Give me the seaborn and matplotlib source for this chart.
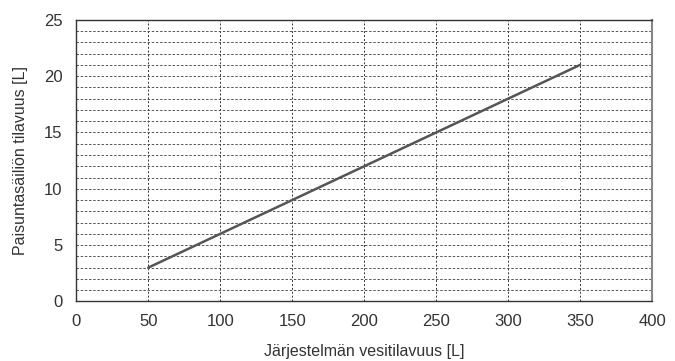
import pandas as pd
import seaborn as sns
import matplotlib.pyplot as plt
from matplotlib.ticker import MultipleLocator

# System water volume vs expansion tank volume
system_volume = [50, 100, 150, 200, 250, 300, 350]
tank_volume = [3, 6, 9, 12, 15, 18, 21]

df = pd.DataFrame({'system': system_volume, 'tank': tank_volume})

sns.set_style('white')
plt.rcParams['font.family'] = ['Liberation Sans', 'DejaVu Sans']

fig, ax = plt.subplots(figsize=(6.75, 3.61), dpi=100)
sns.lineplot(data=df, x='system', y='tank', color='#555555', linewidth=1.8, ax=ax)

ax.set_xlim(0, 400)
ax.set_ylim(0, 25)
ax.xaxis.set_major_locator(MultipleLocator(50))
ax.yaxis.set_major_locator(MultipleLocator(5))
ax.yaxis.set_minor_locator(MultipleLocator(1))

# Dashed grid: vertical every 50, horizontal every 1
ax.grid(which='major', axis='x', linestyle=(0, (2, 2)), color='#333333', linewidth=0.7)
ax.grid(which='both', axis='y', linestyle=(0, (2.5, 1.8)), color='#555555', linewidth=0.7)
ax.set_axisbelow(True)

ax.tick_params(axis='both', which='both', length=0, labelsize=12, colors='#333333')
ax.tick_params(axis='x', pad=9)
ax.tick_params(axis='y', pad=10)
for side in ['left', 'bottom', 'top']:
    ax.spines[side].set_color('#333333')
    ax.spines[side].set_linewidth(1.0)
ax.spines['right'].set_color('#888888')
ax.spines['right'].set_linewidth(1.5)

ax.set_xlabel('Järjestelmän vesitilavuus [L]', fontsize=11.5, color='#333333', labelpad=11)
ax.set_ylabel('Paisuntasäiliön tilavuus [L]', fontsize=11.5, color='#333333', labelpad=11)

fig.subplots_adjust(left=0.113, right=0.966, top=0.945, bottom=0.165)
plt.savefig('out.png', dpi=100)
plt.close()
